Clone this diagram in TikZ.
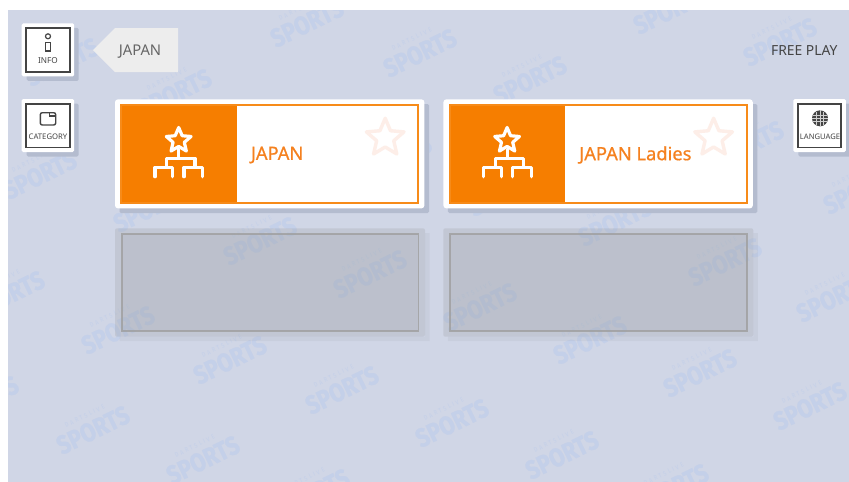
\documentclass[tikz,border=0pt]{standalone}
\usepackage{fontspec}
\setmainfont{Noto Sans}
\newfontfamily\medfont{Noto Sans}[FakeBold=0.6]
\newfontfamily\wmfont{Fira Sans}[BoldFont=* Bold,BoldFeatures={FakeBold=1.2},FakeStretch=0.84]
\usetikzlibrary{shapes.geometric}
\definecolor{bgc}{HTML}{D0D6E6}
\definecolor{wmc}{HTML}{C4D0E9}
\definecolor{shadowc}{HTML}{B4BCCF}
\definecolor{org}{HTML}{F67E00}
\definecolor{orgtxt}{HTML}{F5811F}
\definecolor{darkc}{HTML}{444444}
\definecolor{favc}{HTML}{FDEEE8}
\tikzset{
  wmbig/.style={inner sep=0pt,text=wmc,rotate=26,font=\wmfont\bfseries\fontsize{26}{26}\selectfont},
  wmsmall/.style={inner sep=0pt,text=wmc,rotate=26,font=\wmfont\fontsize{6.5}{6.5}\selectfont},
  whitebox/.style={fill=white,rounded corners=1.5pt},
  btnshadow/.style={fill=shadowc,rounded corners=1.5pt},
  frame/.style={draw=darkc,line width=1.8pt},
  btnlabel/.style={inner sep=0pt,text=darkc},
  treeline/.style={draw=white,line width=3.2pt,line cap=round,line join=round},
  cardtxt/.style={inner sep=0pt,anchor=west,text=orgtxt,font=\medfont\fontsize{18.3}{18.3}\selectfont},
  favstar/.style={star,star points=5,star point ratio=2.2,minimum size=39.5pt,inner sep=0pt,draw=favc,line width=3.4pt,line join=round},
  iconstar/.style={star,star points=5,star point ratio=2.2,minimum size=26pt,inner sep=0pt,draw=white,line width=3.2pt,line join=round},
}
\newcommand{\wmtext}[3]{%
  \node[wmbig] (s#3) at (#1,#2) {SPORTS};
  \node[wmsmall,anchor=south] at ([shift={(-3,-3)}]s#3.north) {D\,\,A\,\,R\,\,T\,\,S\,\,L\,\,I\,\,V\,\,E};
}
\newcommand{\btn}[2]{%
  \fill[btnshadow] (#1+5,#2+4.5) rectangle (#1+57,#2+57.5);
  \fill[whitebox] (#1,#2) rectangle (#1+52.5,#2+53);
  \draw[frame] (#1+4.6,#2+4.6) rectangle (#1+48,#2+48.4);
}
\newcommand{\card}[3]{%
  \fill[btnshadow] (#1+4.5,104) rectangle (#1+314,213);
  \fill[whitebox,rounded corners=3pt] (#1,99.3) rectangle (#1+309.4,208.4);
  \fill[org] (#1+6.3,105.3) rectangle (#1+121.6,202.8);
  \draw[draw=org!90!white,line width=1.7pt] (#1+6.3,105.3) rectangle (#1+303.3,202.8);
  \node[favstar] (fav#3) at (#1+270.2,138) {};
  \node[cardtxt] (txt#3) at (#1+135.7,155) {#2};
  \node[iconstar] (ist#3) at (#1+63.7,140.5) {};
  \coordinate (stem#3) at (#1+63.7,158.3);
  \draw[treeline] (ist#3.center) ++(0,9) -- (stem#3);
  \draw[treeline] (#1+40,176.7) -- (#1+40,167.3) -- (#1+57.7,167.3) -- (#1+57.7,176.7);
  \draw[treeline] (#1+69,176.7) -- (#1+69,167.3) -- (#1+87.7,167.3) -- (#1+87.7,176.7);
  \draw[treeline] (#1+51.7,167.3) -- (#1+51.7,158.3) -- (#1+80,158.3) -- (#1+80,167.3);
}
\newcommand{\slot}[1]{%
  \fill[black,opacity=.035] (#1+310,233) -- (#1+314.5,233) -- (#1+314.5,341) -- (#1+4.5,341) -- (#1+4.5,336.7) -- (#1+310,336.7) -- cycle;
  \fill[gray,opacity=.17,rounded corners=2pt] (#1,228.3) rectangle (#1+310,336.7);
  \fill[gray!90,opacity=.10] (#1+6.7,234.3) rectangle (#1+303.4,331);
  \draw[draw=black!38,opacity=.8,line width=1.8pt] (#1+6.7,234.3) rectangle (#1+303.4,331);
}
\begin{document}
\begin{tikzpicture}[x=1pt,y=-1pt]
\useasboundingbox (0,0) rectangle (849,482);
\fill[white] (0,0) rectangle (849,482);
\fill[bgc] (8,10) rectangle (849,482);
% watermark
\begin{scope}
\clip (8,10) rectangle (849,482);
\foreach \x/\y [count=\i] in {62/62,175/93,285/126,395/159,505/192,615/222,725/262,833/298,
 307/23,420/53,530/80,747/145,860/190,
 670/10,780/42,
 40/175,150/208,260/241,370/274,480/307,590/340,700/373,810/406,
 8/295,118/330,230/360,342/390,452/423,562/455,672/488,
 -18/400,93/430,203/460,313/493}{
  \wmtext{\x}{\y}{\i}
}
\end{scope}
\slot{115}
\slot{443.3}
\card{115}{JAPAN}{a}
\card{443.4}{JAPAN Ladies}{b}
% info
\btn{21.7}{23.3}
\fill[white,draw=darkc,line width=1.2pt] (48,36.3) circle (2.5);
\draw[darkc,line width=1.2pt,fill=white] (45.8,42.3) rectangle (50.2,51);
\node[btnlabel,font=\fontsize{8.2}{8.2}\selectfont] (infolab) at (48,61) {INFO};
% category
\btn{21.7}{99}
\draw[darkc,line width=1.4pt,rounded corners=2pt] (40.3,112.7) rectangle (55.7,125);
\draw[darkc,line width=1.1pt] (49.5,112.7) -- (49.5,116) -- (55.7,116);
\node[btnlabel,font=\fontsize{7.7}{7.7}\selectfont] (catlab) at (48,137) {CATEGORY};
% language
\btn{793.3}{99}
\node[circle,fill=darkc,minimum size=16pt,inner sep=0pt] (globe) at (820,118.3) {};
\draw[white!75!darkc,line width=.35pt] (globe.west) -- (globe.east) (812.6,115.3) -- (827.4,115.3) (812.6,121.3) -- (827.4,121.3) (globe.north) -- (globe.south) (816.6,111.5) -- (816.6,125.1) (823.4,111.5) -- (823.4,125.1);
\node[btnlabel,font=\fontsize{7.6}{7.6}\selectfont] (langlab) at (820,137) {LANGUAGE};
% tag
\fill[fill=black!7] (93,50) -- (115,28) -- (178,28) -- (178,72) -- (115,72) -- cycle;
\node[inner sep=0pt,text=black!60,font=\fontsize{14.8}{14.8}\selectfont] (tag) at (140,51.5) {JAPAN};
\node[inner sep=0pt,text=darkc,font=\fontsize{13.9}{13.9}\selectfont] (free) at (804.3,50.5) {FREE PLAY};
\end{tikzpicture}
\end{document}
